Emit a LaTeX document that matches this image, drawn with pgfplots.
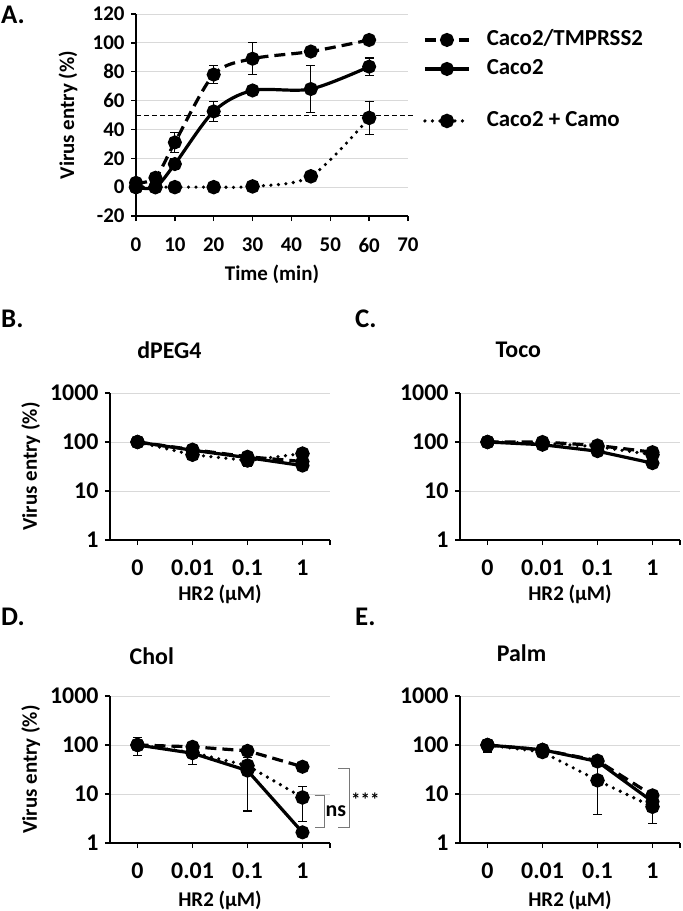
\documentclass[border=0pt]{standalone}
\usepackage{pgfplots}
\pgfplotsset{compat=1.18}
\usepackage{fontspec}
\setmainfont{Carlito}
\definecolor{gridc}{RGB}{217,217,217}
\definecolor{brk}{RGB}{120,120,120}
\pgfplotsset{
  ser/.style={black, line width=3.2bp, mark=*, mark size=5.4bp, mark options={solid, fill=black},
    error bars/y dir=both, error bars/y explicit,
    error bars/error bar style={solid, line width=1.1bp, black},
    error bars/error mark options={rotate=90, mark size=4.5bp, line width=1.1bp, solid, black}},
  plain/.style={black, line width=3.2bp, mark=*, mark size=5.4bp, mark options={solid, fill=black}},
  tmp/.style={ser, dash pattern=on 11bp off 6bp},
  cac/.style={ser, solid},
  cam/.style={ser, line width=3.6bp, dash pattern=on 0bp off 7.5bp, line cap=round},
  ptmp/.style={plain, dash pattern=on 11bp off 6bp},
  pcac/.style={plain, solid},
  pcam/.style={plain, line width=3.6bp, dash pattern=on 0bp off 7.5bp, line cap=round},
  eb/.style={black, solid, line width=1.1bp, mark=-, mark size=4.5bp, mark options={solid, line width=1.1bp}},
  common/.style={scale only axis, axis x line=bottom, axis y line=left,
    axis line style={-, line width=1.4bp, black},
    tick align=outside, major tick length=5bp, tick style={line width=1.3bp, black},
    ymajorgrids, grid style={gridc, line width=1bp},
    /pgf/number format/assume math mode=true,
    label style={font=\bfseries\fontsize{21}{21}\selectfont},
    clip=false},
}
\begin{document}
\begin{tikzpicture}[x=1bp,y=1bp]
\path[use as bounding box] (0bp,0bp) rectangle (683bp,-911bp);
\node[anchor=base west, inner sep=0pt, font=\bfseries\fontsize{27}{27}\selectfont] at (1bp,-23bp) {A.};
\node[anchor=base west, inner sep=0pt, font=\bfseries\fontsize{27}{27}\selectfont] at (1bp,-327bp) {B.};
\node[anchor=base west, inner sep=0pt, font=\bfseries\fontsize{27}{27}\selectfont] at (355bp,-327bp) {C.};
\node[anchor=base west, inner sep=0pt, font=\bfseries\fontsize{27}{27}\selectfont] at (1bp,-625bp) {D.};
\node[anchor=base west, inner sep=0pt, font=\bfseries\fontsize{27}{27}\selectfont] at (355bp,-625bp) {E.};

% ---------------- Panel A ----------------
\begin{axis}[common, at={(136bp,-216bp)}, anchor=south west, width=272bp, height=202bp,
  xmin=0, xmax=70, ymin=-20, ymax=120,
  xtick={0,10,...,70}, ytick={-20,0,...,120},
  tick label style={font=\bfseries\fontsize{21}{21}\selectfont},
  xticklabel style={anchor=center, yshift=-24bp},
  yticklabel style={anchor=east, xshift=-3bp},
  xlabel={Time (min)}, ylabel={Virus entry (\%)},
  xlabel style={at={(axis description cs:0.5,-0.29)}, anchor=center},
  ylabel style={at={(axis description cs:-0.25,0.5)}, anchor=center},
  label style={font=\bfseries\fontsize{21}{21}\selectfont},
  legend image code/.code={\draw[mark repeat=2,mark phase=2] plot coordinates {(0bp,0bp) (22bp,0bp) (44bp,0bp)};},
  legend cell align=left,
  legend style={at={(1.055,0.922)}, anchor=north west, draw=none, fill=none, inner sep=0pt,
    font=\bfseries\fontsize{23}{23}\selectfont, row sep=9bp,
    nodes={inner sep=0pt, text height=16bp, text depth=4bp},
    /tikz/every odd column/.append style={column sep=16bp}},
]
\addplot[tmp, smooth] coordinates {(0,3) (5,6.5) +- (0,1) (10,31) +- (0,7) (20,78) +- (0,6) (30,89) +- (0,11) (45,94) +- (0,3) (60,102) +- (0,2)};
\addlegendentry{Caco2/TMPRSS2}
\addplot[cac, smooth] coordinates {(0,0) (5,0) (10,16) +- (0,4) (20,52.5) +- (0,7) (30,67) +- (0,1.5) (45,68) +- (0,16) (60,83.5) +- (0,6)};
\addlegendentry{Caco2}
\addlegendimage{empty legend}
\addlegendentry[text height=10bp, text depth=4bp]{}
\addplot[cam, smooth] coordinates {(0,0) (5,0) (10,0) (20,0) (30,0.5) (45,7.5) (60,48) +- (0,11.5)};
\addlegendentry{Caco2 + Camo}
\draw[black, line width=1bp, dash pattern=on 5bp off 3bp] (axis cs:0,49.5) -- (axis cs:71.5,49.5);
\end{axis}

% ---------------- Panel B ----------------
\begin{axis}[common, at={(110bp,-540bp)}, anchor=south west, width=220bp, height=147bp,
  ymode=log, ymin=1, ymax=1000, xmin=-0.5, xmax=3.5,
  xtick={0,1,2,3}, xticklabels={0,0.01,0.1,1},
  extra x ticks={3.5}, extra x tick labels={}, extra x tick style={grid=none},
  ytick={1,10,100,1000}, yticklabels={1,10,100,1000}, yminorticks=false,
  tick label style={font=\bfseries\fontsize{24}{24}\selectfont},
  xticklabel style={anchor=center, yshift=-23bp},
  yticklabel style={anchor=east, xshift=-3bp},
  xlabel={HR2 (µM)}, ylabel={Virus entry (\%)},
  title={dPEG4},
  title style={font=\bfseries\fontsize{24}{24}\selectfont, anchor=center, at={(axis description cs:0.27,1.25)}},
  xlabel style={at={(axis description cs:0.5,-0.37)}, anchor=center},
  ylabel style={at={(axis description cs:-0.36,0.5)}, anchor=center}]
\addplot[eb] coordinates {(1,45) (1,65)};
\addplot[eb] coordinates {(2,32) (2,60)};
\addplot[ptmp] coordinates {(0,100) (1,70) (2,50) (3,40)};
\addplot[pcac] coordinates {(0,100) (1,68) (2,48) (3,33)};
\addplot[pcam] coordinates {(0,100) (1,55) (2,42) (3,58)};
\end{axis}

% ---------------- Panel C ----------------
\begin{axis}[common, at={(460bp,-540bp)}, anchor=south west, width=220bp, height=147bp,
  ymode=log, ymin=1, ymax=1000, xmin=-0.5, xmax=3.5,
  xtick={0,1,2,3}, xticklabels={0,0.01,0.1,1},
  extra x ticks={3.5}, extra x tick labels={}, extra x tick style={grid=none},
  ytick={1,10,100,1000}, yticklabels={1,10,100,1000}, yminorticks=false,
  tick label style={font=\bfseries\fontsize{24}{24}\selectfont},
  xticklabel style={anchor=center, yshift=-23bp},
  yticklabel style={anchor=east, xshift=-3bp},
  xlabel={HR2 (µM)},
  title={Toco},
  title style={font=\bfseries\fontsize{24}{24}\selectfont, anchor=center, at={(axis description cs:0.265,1.25)}},
  xlabel style={at={(axis description cs:0.5,-0.37)}, anchor=center}]
\addplot[ptmp] coordinates {(0,100) (1,100) (2,85) (3,62)};
\addplot[pcac] coordinates {(0,100) (1,88) (2,65) (3,37)};
\addplot[pcam] coordinates {(0,100) (1,95) (2,80) (3,55)};
\end{axis}

% ---------------- Panel D ----------------
\begin{axis}[common, at={(110bp,-843bp)}, anchor=south west, width=220bp, height=147bp,
  ymode=log, ymin=1, ymax=1000, xmin=-0.5, xmax=3.5,
  xtick={0,1,2,3}, xticklabels={0,0.01,0.1,1},
  extra x ticks={3.5}, extra x tick labels={}, extra x tick style={grid=none},
  ytick={1,10,100,1000}, yticklabels={1,10,100,1000}, yminorticks=false,
  tick label style={font=\bfseries\fontsize{24}{24}\selectfont},
  xticklabel style={anchor=center, yshift=-23bp},
  yticklabel style={anchor=east, xshift=-3bp},
  xlabel={HR2 (µM)}, ylabel={Virus entry (\%)},
  title={Chol},
  title style={font=\bfseries\fontsize{24}{24}\selectfont, anchor=center, at={(axis description cs:0.19,1.23)}},
  xlabel style={at={(axis description cs:0.5,-0.39)}, anchor=center},
  ylabel style={at={(axis description cs:-0.36,0.5)}, anchor=center}]
\addplot[eb] coordinates {(0,62) (0,140)};
\addplot[eb] coordinates {(1,40) (1,82)};
\addplot[eb] coordinates {(2,4.5) (2,55)};
\addplot[eb] coordinates {(3,2.7) (3,14.5)};
\addplot[ptmp] coordinates {(0,100) (1,92) (2,76) (3,36)};
\addplot[pcac] coordinates {(0,100) (1,68) (2,30) (3,1.65)};
\addplot[pcam] coordinates {(0,100) (1,70) (2,38) (3,8.5)};
\end{axis}

% ---------------- Panel E ----------------
\begin{axis}[common, at={(460bp,-843bp)}, anchor=south west, width=220bp, height=147bp,
  ymode=log, ymin=1, ymax=1000, xmin=-0.5, xmax=3.5,
  xtick={0,1,2,3}, xticklabels={0,0.01,0.1,1},
  extra x ticks={3.5}, extra x tick labels={}, extra x tick style={grid=none},
  ytick={1,10,100,1000}, yticklabels={1,10,100,1000}, yminorticks=false,
  tick label style={font=\bfseries\fontsize{24}{24}\selectfont},
  xticklabel style={anchor=center, yshift=-23bp},
  yticklabel style={anchor=east, xshift=-3bp},
  xlabel={HR2 (µM)},
  title={Palm},
  title style={font=\bfseries\fontsize{24}{24}\selectfont, anchor=center, at={(axis description cs:0.28,1.25)}},
  xlabel style={at={(axis description cs:0.5,-0.39)}, anchor=center}]
\addplot[eb] coordinates {(0,72) (0,130)};
\addplot[eb] coordinates {(2,3.8) (2,40)};
\addplot[eb] coordinates {(3,2.5) (3,8.5)};
\addplot[ptmp] coordinates {(0,100) (1,80) (2,48) (3,9.4)};
\addplot[pcac] coordinates {(0,100) (1,80) (2,46) (3,7)};
\addplot[pcam] coordinates {(0,100) (1,72) (2,19) (3,5.5)};
\end{axis}

% significance annotations in panel D
\draw[brk, line width=1bp] (314.5bp,-795bp) -- (324.5bp,-795bp) -- (324.5bp,-827.5bp) -- (314.5bp,-827.5bp);
\draw[brk, line width=1bp] (338bp,-768.5bp) -- (349bp,-768.5bp) -- (349bp,-827.5bp) -- (338bp,-827.5bp);
\node[anchor=west, inner sep=1bp, font=\bfseries\fontsize{22}{22}\selectfont] at (324.5bp,-811bp) {ns};
\node[anchor=west, inner sep=1bp, font=\bfseries\fontsize{19}{19}\selectfont] at (350bp,-800bp) {***};
\end{tikzpicture}
\end{document}
